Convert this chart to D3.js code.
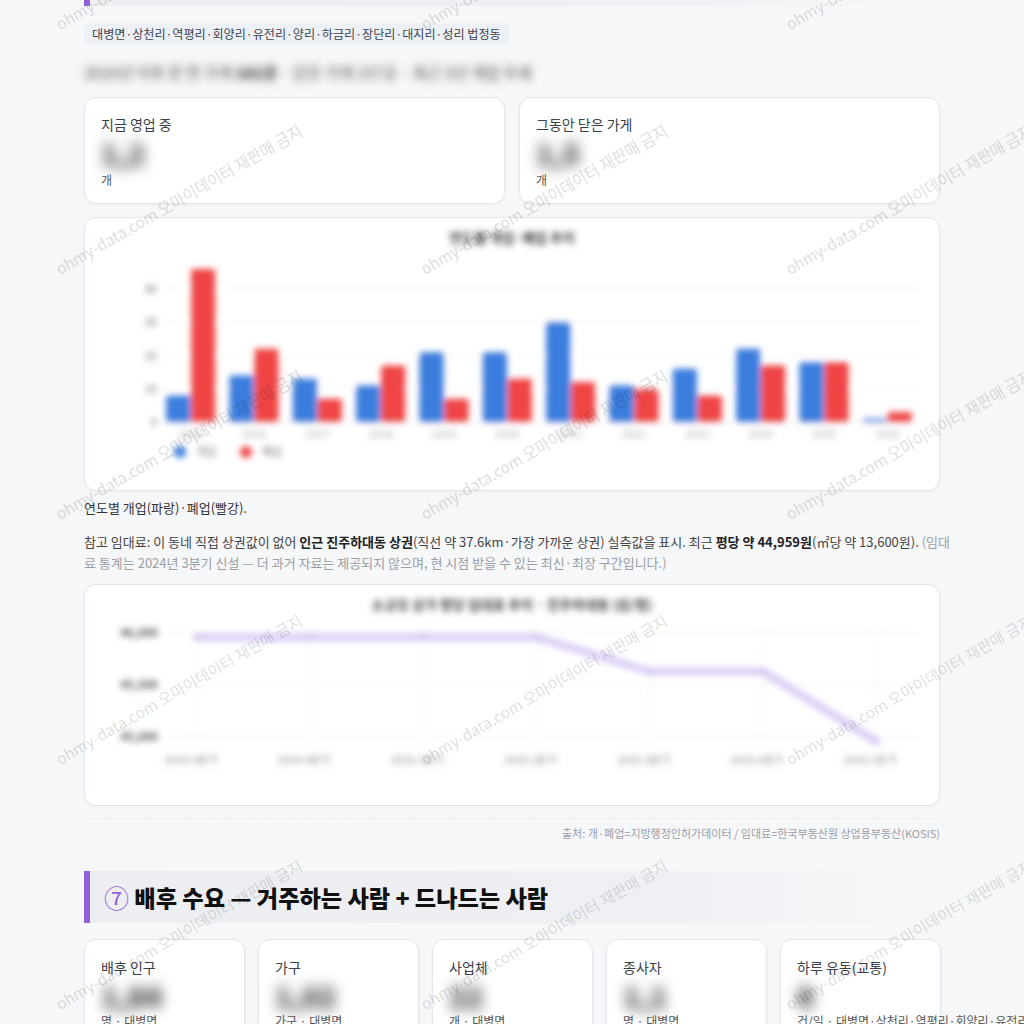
<!DOCTYPE html>
<html><head><meta charset="utf-8">
<script src="https://cdn.jsdelivr.net/npm/d3@7"></script>
<style>
html,body{margin:0;padding:0}
body{background:#f6f7f9;font-family:"Noto Sans CJK KR","Noto Sans",sans-serif;width:1024px;height:1024px;overflow:hidden;position:relative;color:#333}
.a{position:absolute;white-space:nowrap}
.card{position:absolute;background:#fff;border:1px solid #e3e6eb;border-radius:12px;box-sizing:border-box;box-shadow:0 1px 3px rgba(20,30,60,0.04)}
.lbl{position:absolute;left:16px;font-size:14px;line-height:20px;color:#3a3f4a}
.num{position:absolute;left:16px;font-size:28px;font-weight:900;color:#333;filter:blur(7px)}
.sub{position:absolute;left:16px;font-size:12px;line-height:16px;color:#555;white-space:nowrap}
b{font-weight:700;color:#222}
#ov{position:absolute;left:0;top:0;pointer-events:none}
</style></head>
<body>
<div class="a" style="left:84px;top:-46px;width:822px;height:52px;background:linear-gradient(90deg,#eceef2 0%,#eef0f3 70%,rgba(246,247,249,0) 100%);border-left:6px solid #8f5fdc;box-sizing:border-box"></div>
<div class="a" style="left:84px;top:23px;width:426px;height:22px;background:#edf0f5;border-radius:6px;font-size:12.1px;line-height:22px;color:#3f4450;padding-left:8px;box-sizing:border-box">대병면·상천리·역평리·회양리·유전리·양리·하금리·장단리·대지리·성리 법정동</div>
<div class="a" style="left:84px;top:61px;font-size:15.5px;line-height:22px;color:#444;filter:blur(4px)">2016년 이후 문 연 가게 <b>182곳</b> · 닫은 가게 157곳 · 최근 3년 개업 우세</div>

<div class="card" style="left:84px;top:97px;width:421px;height:107px">
  <div class="lbl" style="top:16px">지금 영업 중</div>
  <div class="num" style="top:35px">1,2</div>
  <div class="sub" style="top:74px">개</div>
</div>
<div class="card" style="left:519px;top:97px;width:421px;height:107px">
  <div class="lbl" style="top:16px">그동안 닫은 가게</div>
  <div class="num" style="top:35px">1,5</div>
  <div class="sub" style="top:74px">개</div>
</div>

<div class="card" style="left:84px;top:217px;width:856px;height:274px"></div>
<div class="a" style="left:84px;top:498px;font-size:13px;line-height:20px;color:#333">연도별 개업(파랑)·폐업(빨강).</div>
<div class="a" style="left:84px;top:531px;font-size:13px;line-height:21px;color:#444">참고 임대료: 이 동네 직접 상권값이 없어 <b>인근 진주하대동 상권</b>(직선 약 37.6km·가장 가까운 상권) 실측값을 표시. 최근 <b>평당 약 44,959원</b>(㎡당 약 13,600원). <span style="color:#9a9ea6">(임대</span><br><span style="color:#9a9ea6">료 통계는 2024년 3분기 신설 — 더 과거 자료는 제공되지 않으며, 현 시점 받을 수 있는 최신·최장 구간입니다.)</span></div>

<div class="card" style="left:84px;top:584px;width:856px;height:222px"></div>
<div class="a" style="left:84px;top:818px;width:856px;border-top:1px dashed #e3e6eb"></div>
<div class="a" style="right:84px;top:825px;font-size:11px;line-height:16px;color:#9a9ea6">출처: 개·폐업=지방행정인허가데이터 / 임대료=한국부동산원 상업용부동산(KOSIS)</div>

<div class="a" style="left:84px;top:871px;width:822px;height:52px;background:linear-gradient(90deg,#eceef2 0%,#eef0f3 70%,rgba(246,247,249,0) 100%);border-left:6px solid #8f5fdc;box-sizing:border-box;padding-left:14px;font-size:23.2px;font-weight:900;line-height:52px;color:#111"><span style="color:#8f5fdc;font-weight:400;font-size:25px;vertical-align:-1px">⑦</span> 배후 수요 — 거주하는 사람 + 드나드는 사람</div>

<div id="bottom"></div>

<svg id="ov" width="1024" height="1024"></svg>

<script>
// ---- data ----
const years = ["2015","2016","2017","2018","2019","2020","2021","2022","2023","2024","2025","2026"];
const openCounts  = [8, 14, 13, 11, 21, 21, 30, 11, 16, 22, 18, 1];
const closeCounts = [46, 22, 7, 17, 7, 13, 12, 10, 8, 17, 18, 3];
const barTicks = [0, 10, 20, 30, 40];
const seriesNames = ["개업", "폐업"];

const quarters = ["2024 3분기","2024 4분기","2025 1분기","2025 2분기","2025 3분기","2025 4분기","2026 1분기"];
const rentPerPyeong = [45960, 45960, 45960, 45960, 45630, 45630, 44959];
const rentTicks = [45000, 45500, 46000];

const bottomLabels = ["배후 인구","가구","사업체","종사자","하루 유동(교통)"];
const bottomValues = ["1,84","1,02","22","1,1","8"];
const bottomUnits = ["명 · 대병면","가구 · 대병면","개 · 대병면","명 · 대병면","건/일 · 대병면·상천리·역평리·회양리·유전리·양리·하금리"];

// ---- bottom cards ----
const bx = [84, 258, 432, 606, 780];
const bottom = d3.select("#bottom");
bottomLabels.forEach((l, i) => {
  const c = bottom.append("div").attr("class","card").style("left", bx[i]+"px").style("top","939px").style("width","161px").style("height","120px").style("overflow","visible");
  c.append("div").attr("class","lbl").style("top","17px").text(l);
  c.append("div").attr("class","num").style("top","36px").text(bottomValues[i]);
  c.append("div").attr("class","sub").style("top","73px").text(bottomUnits[i]);
});

const svg = d3.select("#ov");
const defs = svg.append("defs");
defs.append("filter").attr("id","blur").attr("x","-5%").attr("y","-10%").attr("width","110%").attr("height","120%")
  .append("feGaussianBlur").attr("stdDeviation", 3.3);

const FONT = '"Noto Sans CJK KR","Noto Sans",sans-serif';

// ---- bar chart ----
const blue = "#3b7ddd", red = "#ef4444";
const x0 = d3.scaleBand().domain(years).range([159, 919]).paddingInner(0.2).paddingOuter(0.1);
const x1 = d3.scaleBand().domain(seriesNames).range([0, x0.bandwidth()]).padding(0.03);
const y = d3.scaleLinear().domain([0, 40]).range([422, 289]);

const gb = svg.append("g").attr("filter","url(#blur)");
gb.selectAll("line.g").data(barTicks).join("line")
  .attr("x1",159).attr("x2",919).attr("y1",d=>y(d)).attr("y2",d=>y(d))
  .attr("stroke", d => d===0 ? "#dcdcdc" : "#eeeeee").attr("stroke-width",1);
gb.selectAll("text.yt").data(barTicks).join("text")
  .attr("x",157).attr("y",d=>y(d)+4).attr("text-anchor","end")
  .attr("font-family",FONT).attr("font-size",11).attr("fill","#666").text(d=>d);
gb.selectAll("text.xt").data(years).join("text")
  .attr("x",d=>x0(d)+x0.bandwidth()/2).attr("y",438).attr("text-anchor","middle")
  .attr("font-family",FONT).attr("font-size",11).attr("fill","#aaa").text(d=>d);
const grp = gb.selectAll("g.grp").data(years).join("g").attr("transform",d=>`translate(${x0(d)},0)`);
grp.append("rect").attr("x",x1("개업")).attr("width",x1.bandwidth())
  .attr("y",(d,i)=>y(openCounts[i])).attr("height",(d,i)=>y(0)-y(openCounts[i])).attr("fill",blue).attr("rx",2);
grp.append("rect").attr("x",x1("폐업")).attr("width",x1.bandwidth())
  .attr("y",(d,i)=>y(closeCounts[i])).attr("height",(d,i)=>y(0)-y(closeCounts[i])).attr("fill",red).attr("rx",2);
gb.append("text").attr("x",512).attr("y",243).attr("text-anchor","middle")
  .attr("font-family",FONT).attr("font-size",13.5).attr("font-weight",700).attr("fill","#444").text("연도별 개업·폐업 추이");
const leg = gb.selectAll("g.leg").data(seriesNames).join("g").attr("transform",(d,i)=>`translate(${180+66*i},452)`);
leg.append("circle").attr("r",6).attr("fill",(d,i)=>i?red:blue);
leg.append("text").attr("x",16).attr("y",4).attr("font-family",FONT).attr("font-size",11).attr("fill","#777").text(d=>d);

// ---- line chart ----
const xl = d3.scalePoint().domain(quarters).range([197, 876]);
const yl = d3.scaleLinear().domain([45000, 46000]).range([737, 633]);
const gl = svg.append("g").attr("filter","url(#blur)");
gl.selectAll("line.v").data(quarters).join("line")
  .attr("x1",d=>xl(d)).attr("x2",d=>xl(d)).attr("y1",625).attr("y2",748).attr("stroke","#f1f1f1");
gl.selectAll("line.h").data(rentTicks).join("line")
  .attr("x1",165).attr("x2",920).attr("y1",d=>yl(d)).attr("y2",d=>yl(d)).attr("stroke","#f1f1f1");
gl.selectAll("text.yt").data(rentTicks).join("text")
  .attr("x",158).attr("y",d=>yl(d)+4).attr("text-anchor","end")
  .attr("font-family",FONT).attr("font-size",11.5).attr("font-weight",700).attr("fill","#555").text(d=>d3.format(",")(d));
gl.selectAll("text.xt").data(quarters).join("text")
  .attr("x",d=>xl(d)-6).attr("y",764).attr("text-anchor","middle")
  .attr("font-family",FONT).attr("font-size",11).attr("fill","#888").text(d=>d);
gl.append("path").datum(rentPerPyeong)
  .attr("d", d3.line().x((d,i)=>xl(quarters[i])).y(d=>yl(d)))
  .attr("fill","none").attr("stroke","#dccdf6").attr("stroke-width",8).attr("stroke-linejoin","round").attr("stroke-linecap","round");
gl.selectAll("circle").data(rentPerPyeong).join("circle")
  .attr("cx",(d,i)=>xl(quarters[i])).attr("cy",d=>yl(d)).attr("r",4).attr("fill","#d6c6f3");
gl.append("text").attr("x",512).attr("y",610).attr("text-anchor","middle")
  .attr("font-family",FONT).attr("font-size",13.5).attr("font-weight",700).attr("fill","#444").text("소규모 상가 평당 임대료 추이 · 진주하대동 (원/평)");

// ---- watermark ----
const wm = svg.append("g");
for (let i = 0; i < 3; i++) {
  for (let j = 0; j < 5; j++) {
    wm.append("text")
      .attr("transform",`translate(${182+365*i},${-40+245*j}) rotate(-30)`)
      .attr("text-anchor","middle").attr("font-family",FONT).attr("font-size",15.5)
      .attr("fill","rgba(0,0,0,0.15)")
      .text("ohmy-data.com 오마이데이터 재판매 금지");
  }
}
</script>
</body></html>
